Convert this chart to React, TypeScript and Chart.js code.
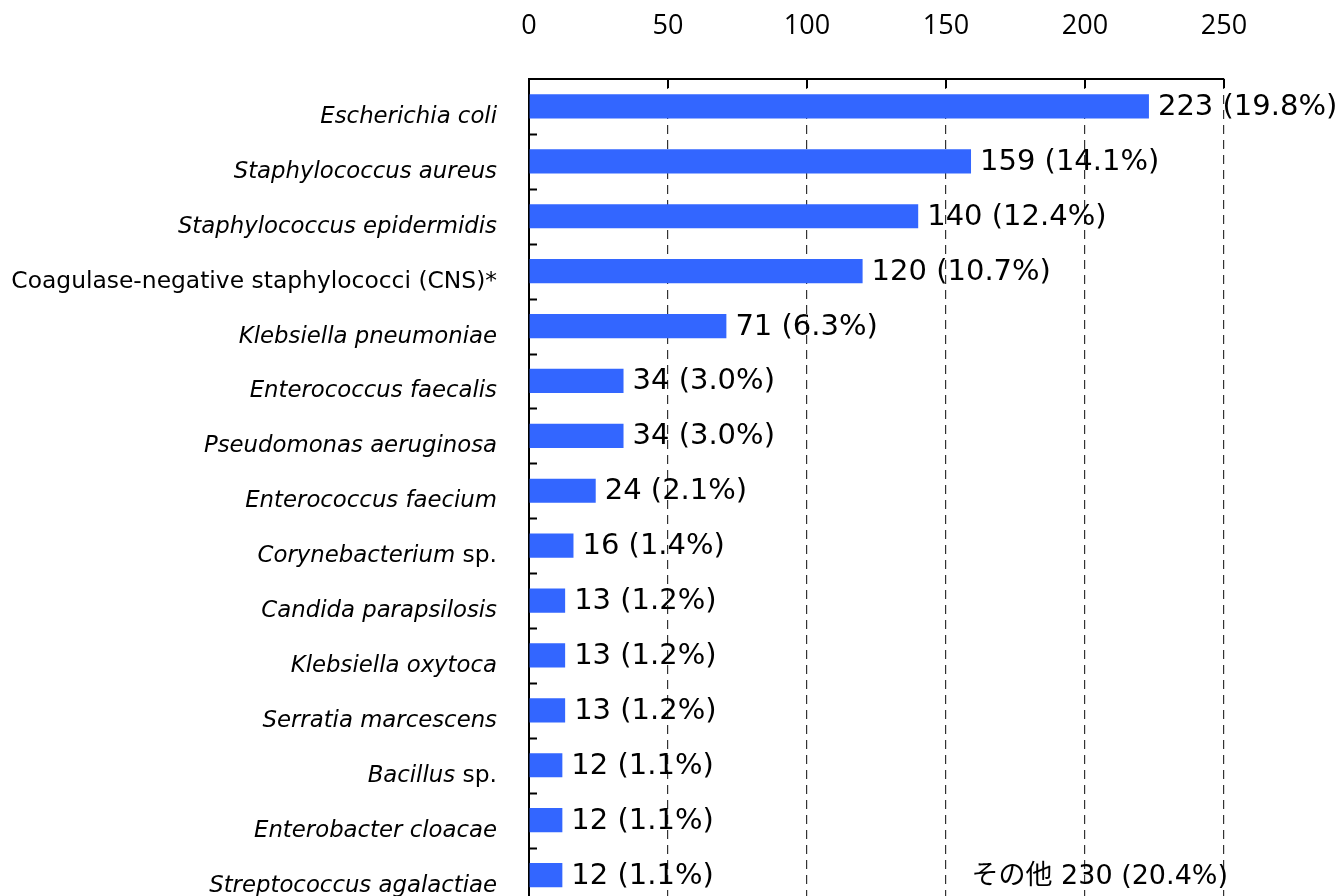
import React, { useEffect, useRef } from 'react';
import { Chart, registerables } from 'chart.js';

Chart.register(...registerables);

const categories = [
  'Escherichia coli',
  'Staphylococcus aureus',
  'Staphylococcus epidermidis',
  'Coagulase-negative staphylococci (CNS)*',
  'Klebsiella pneumoniae',
  'Enterococcus faecalis',
  'Pseudomonas aeruginosa',
  'Enterococcus faecium',
  'Corynebacterium sp.',
  'Candida parapsilosis',
  'Klebsiella oxytoca',
  'Serratia marcescens',
  'Bacillus sp.',
  'Enterobacter cloacae',
  'Streptococcus agalactiae',
];

// leading part of each category name that is set in italics (the rest is upright)
const italicParts = [
  'Escherichia coli',
  'Staphylococcus aureus',
  'Staphylococcus epidermidis',
  '',
  'Klebsiella pneumoniae',
  'Enterococcus faecalis',
  'Pseudomonas aeruginosa',
  'Enterococcus faecium',
  'Corynebacterium',
  'Candida parapsilosis',
  'Klebsiella oxytoca',
  'Serratia marcescens',
  'Bacillus',
  'Enterobacter cloacae',
  'Streptococcus agalactiae',
];

const counts = [223, 159, 140, 120, 71, 34, 34, 24, 16, 13, 13, 13, 12, 12, 12];
const percents = ['19.8', '14.1', '12.4', '10.7', '6.3', '3.0', '3.0', '2.1', '1.4', '1.2', '1.2', '1.2', '1.1', '1.1', '1.1'];

const xMin = 0;
const xMax = 250;
const xStep = 50;

const otherNote = 'その他 230 (20.4%)';

const BAR_COLOR = '#3366ff';
const LABEL_FONT = '"DejaVu Sans", Verdana, sans-serif';
const VALUE_FONT = '"DejaVu Sans", Verdana, "Noto Sans CJK JP", sans-serif';

const overlayPlugin = {
  id: 'overlay',
  afterDraw(chart: any) {
    const ctx = chart.ctx;
    const xs = chart.scales.x;
    const ys = chart.scales.y;
    const area = chart.chartArea;
    ctx.save();

    // inward tick marks on top axis
    ctx.strokeStyle = '#000';
    ctx.lineWidth = 2;
    xs.ticks.forEach((t: any) => {
      if (t.value === xMin) return;
      const px = Math.round(xs.getPixelForValue(t.value));
      ctx.beginPath();
      ctx.moveTo(px, area.top);
      ctx.lineTo(px, area.top + 9);
      ctx.stroke();
    });

    // inward tick marks on left axis at category boundaries
    const n = categories.length;
    for (let i = 1; i <= n; i++) {
      const py = Math.round((ys.getPixelForValue(i - 1) + ys.getPixelForValue(i)) / 2) + 0.5;
      if (isNaN(py)) continue;
      ctx.beginPath();
      ctx.moveTo(area.left, py);
      ctx.lineTo(area.left + 8, py);
      ctx.stroke();
    }

    // category labels (mixed italic / upright)
    const IS = 22.8;
    const US = 23.4;
    ctx.fillStyle = '#000';
    ctx.textBaseline = 'alphabetic';
    ctx.textAlign = 'left';
    categories.forEach((name, i) => {
      const it = italicParts[i];
      const rest = name.slice(it.length);
      ctx.font = `italic ${IS}px ${LABEL_FONT}`;
      const w1 = it ? ctx.measureText(it).width : 0;
      ctx.font = `${US}px ${LABEL_FONT}`;
      const w2 = rest ? ctx.measureText(rest).width : 0;
      const right = area.left - 32;
      const y = ys.getPixelForValue(i) + 16.5;
      let x = right - w1 - w2;
      if (it) {
        ctx.font = `italic ${IS}px ${LABEL_FONT}`;
        ctx.fillText(it, x, y);
        x += w1;
      }
      if (rest) {
        ctx.font = `${US}px ${LABEL_FONT}`;
        ctx.fillText(rest, x, y);
      }
    });

    // value labels
    ctx.font = `29px ${VALUE_FONT}`;
    ctx.textBaseline = 'middle';
    const meta = chart.getDatasetMeta(0);
    meta.data.forEach((bar: any, i: number) => {
      ctx.fillText(`${counts[i]} (${percents[i]}%)`, bar.x + 9, bar.y + 1);
    });

    // "others" note
    ctx.font = `27px ${VALUE_FONT}`;
    ctx.textAlign = 'right';
    ctx.fillText(otherNote, area.right + 4, ys.getPixelForValue(n - 1) + 2);

    ctx.restore();
  },
};

export default function App() {
  const ref = useRef<HTMLCanvasElement | null>(null);
  useEffect(() => {
    if (!ref.current) return;
    const chart = new Chart(ref.current, {
      type: 'bar',
      data: {
        labels: categories,
        datasets: [
          {
            data: counts,
            backgroundColor: BAR_COLOR,
            borderWidth: 0,
            barPercentage: 0.44,
            categoryPercentage: 1,
          },
        ],
      },
      options: {
        indexAxis: 'y',
        responsive: false,
        animation: false,
        layout: { padding: { top: 0, left: 0, right: 117, bottom: 17.5 } },
        plugins: { legend: { display: false }, tooltip: { enabled: false } },
        scales: {
          x: {
            position: 'top',
            min: xMin,
            max: xMax,
            ticks: {
              stepSize: xStep,
              color: '#000',
              font: { family: '"Open Sans", sans-serif', size: 27 },
              padding: 36,
            },
            grid: {
              color: (c: any) => (c.tick && c.tick.value === xMin ? 'rgba(0,0,0,0)' : '#333'),
              lineWidth: 1.2,
              drawTicks: false,
            },
            border: { display: true, color: '#000', width: 2, dash: [9, 6] },
            afterFit: (s: any) => {
              s.height = 79;
            },
          },
          y: {
            ticks: { display: false },
            grid: { display: false },
            border: { display: true, color: '#000', width: 2 },
            afterFit: (s: any) => {
              s.width = 529;
            },
          },
        },
      },
      plugins: [overlayPlugin],
    } as any);
    return () => chart.destroy();
  }, []);
  return (
    <div style={{ position: 'fixed', left: 0, top: 0, width: 1341, height: 896, overflow: 'hidden', background: '#fff' }}>
      <canvas ref={ref} width={1341} height={920} style={{ display: 'block' }} />
    </div>
  );
}
